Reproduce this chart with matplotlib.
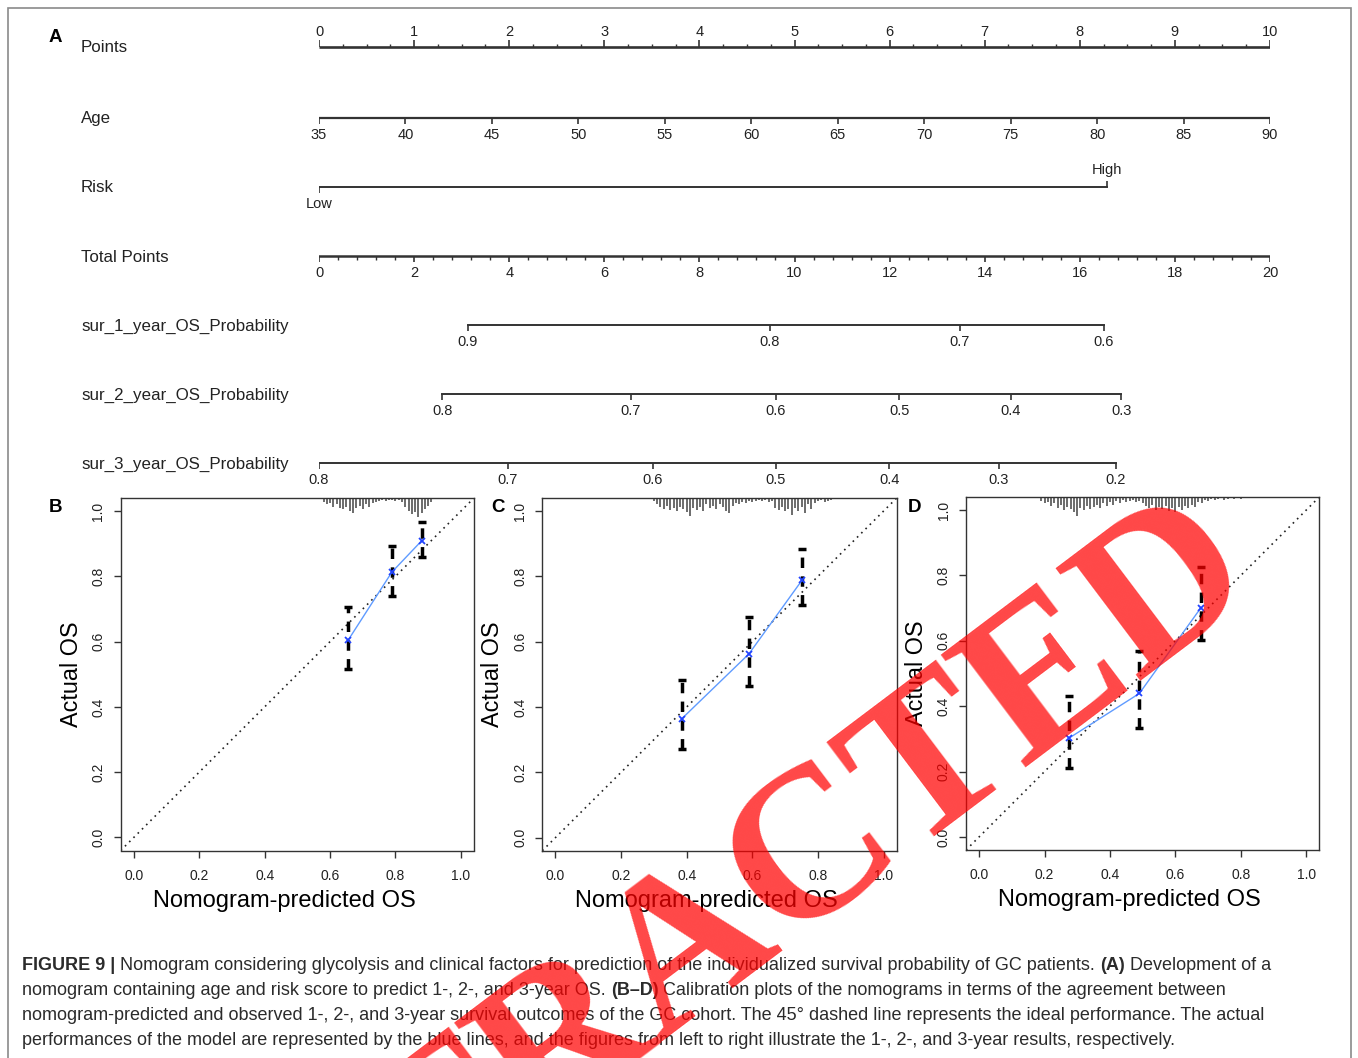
import matplotlib
matplotlib.use("Agg")
import matplotlib.pyplot as plt
import numpy as np
from matplotlib.patches import Rectangle

plt.rcParams['font.family'] = ['Liberation Sans', 'DejaVu Sans']

W, H = 1358, 1058
INK = "#333333"

# ---- nomogram (panel A) ----
points_ticks = [0, 1, 2, 3, 4, 5, 6, 7, 8, 9, 10]
age_ticks = [35, 40, 45, 50, 55, 60, 65, 70, 75, 80, 85, 90]
age_range = [35, 90]          # maps onto 0..10 points
risk_labels = ["Low", "High"]
risk_points = [0.0, 8.29]
total_ticks = [0, 2, 4, 6, 8, 10, 12, 14, 16, 18, 20]
sur1_labels = ["0.9", "0.8", "0.7", "0.6"]
sur1_total = [3.13, 9.48, 13.48, 16.51]
sur2_labels = ["0.8", "0.7", "0.6", "0.5", "0.4", "0.3"]
sur2_total = [2.59, 6.56, 9.61, 12.20, 14.55, 16.87]
sur3_labels = ["0.8", "0.7", "0.6", "0.5", "0.4", "0.3", "0.2"]
sur3_total = [0.0, 3.97, 7.02, 9.61, 11.99, 14.30, 16.76]
row_names = ["Points", "Age", "Risk", "Total Points", "sur_1_year_OS_Probability",
             "sur_2_year_OS_Probability", "sur_3_year_OS_Probability"]

# ---- calibration panels (B: 1 year, C: 2 year, D: 3 year) ----
B_pred = [0.655, 0.789, 0.880]
B_obs = [0.604, 0.813, 0.909]
B_lo = [0.517, 0.739, 0.858]
B_hi = [0.706, 0.892, 0.966]
C_pred = [0.385, 0.590, 0.752]
C_obs = [0.364, 0.563, 0.789]
C_lo = [0.272, 0.463, 0.713]
C_hi = [0.484, 0.677, 0.883]
D_pred = [0.276, 0.490, 0.678]
D_obs = [0.303, 0.439, 0.701]
D_lo = [0.210, 0.333, 0.601]
D_hi = [0.430, 0.568, 0.826]

# spike histograms of predicted risk along the top
B_rug_x = [0.58, 0.59, 0.60, 0.61, 0.62, 0.63, 0.64, 0.65, 0.66, 0.67, 0.68, 0.69,
           0.70, 0.71, 0.72, 0.73, 0.74, 0.75, 0.76, 0.77, 0.78, 0.79, 0.80, 0.81,
           0.82, 0.83, 0.84, 0.85, 0.86, 0.87, 0.88, 0.89, 0.90, 0.91]
B_rug_n = [4, 6, 5, 8, 6, 9, 10, 8, 12, 14, 9, 7, 10, 6, 8, 5, 4, 3, 2, 3, 2, 2,
           3, 2, 4, 8, 12, 15, 13, 18, 14, 10, 7, 4]
C_rug_x = [0.30, 0.31, 0.32, 0.33, 0.34, 0.35, 0.36, 0.37, 0.38, 0.39, 0.40, 0.41,
           0.42, 0.43, 0.44, 0.45, 0.46, 0.47, 0.48, 0.49, 0.50, 0.51, 0.52, 0.53,
           0.54, 0.55, 0.56, 0.57, 0.58, 0.59, 0.60, 0.61, 0.62, 0.63, 0.64, 0.65,
           0.66, 0.67, 0.68, 0.69, 0.70, 0.71, 0.72, 0.73, 0.74, 0.75, 0.76, 0.77,
           0.78, 0.79, 0.80, 0.81, 0.82, 0.83, 0.84]
C_rug_n = [3, 6, 8, 10, 7, 11, 9, 12, 8, 10, 13, 17, 9, 11, 8, 12, 6, 9, 7, 10,
           6, 8, 12, 14, 7, 5, 6, 4, 5, 3, 4, 3, 2, 3, 2, 4, 3, 9, 11, 8,
           12, 10, 16, 9, 12, 8, 14, 6, 10, 5, 3, 2, 4, 3, 2]
D_rug_x = [0.19, 0.20, 0.21, 0.22, 0.23, 0.24, 0.25, 0.26, 0.27, 0.28, 0.29, 0.30,
           0.31, 0.32, 0.33, 0.34, 0.35, 0.36, 0.37, 0.38, 0.39, 0.40, 0.41, 0.42,
           0.43, 0.44, 0.45, 0.46, 0.47, 0.48, 0.49, 0.50, 0.51, 0.52, 0.53, 0.54,
           0.55, 0.56, 0.57, 0.58, 0.59, 0.60, 0.61, 0.62, 0.63, 0.64, 0.65, 0.66,
           0.67, 0.68, 0.69, 0.70, 0.71, 0.72, 0.73, 0.74, 0.75, 0.76, 0.78, 0.80]
D_rug_n = [4, 6, 5, 8, 6, 10, 7, 12, 9, 11, 14, 18, 10, 12, 8, 11, 9, 7, 10, 6,
           8, 5, 7, 4, 6, 3, 5, 4, 3, 5, 4, 6, 8, 10, 7, 12, 9, 11, 8, 13,
           10, 14, 9, 12, 8, 10, 7, 9, 5, 6, 3, 4, 2, 3, 2, 1, 3, 2, 2, 2]

caption = [
    [("FIGURE 9 |", True),
     ("Nomogram considering glycolysis and clinical factors for prediction of the "
      "individualized survival probability of GC patients.", False),
     ("(A)", True), ("Development of a", False)],
    [("nomogram containing age and risk score to predict 1-, 2-, and 3-year OS.", False),
     ("(B\u2013D)", True),
     ("Calibration plots of the nomograms in terms of the agreement between", False)],
    [("nomogram-predicted and observed 1-, 2-, and 3-year survival outcomes of the GC "
      "cohort. The 45\u00b0 dashed line represents the ideal performance. The actual", False)],
    [("performances of the model are represented by the blue lines, and the figures "
      "from left to right illustrate the 1-, 2-, and 3-year results, respectively.", False)],
]

fig = plt.figure(figsize=(W / 100, H / 100), dpi=100)

# outer frame
fig.patches.append(Rectangle((8 / W, -0.02), (1351 - 8) / W, 1 - 8 / H + 0.02,
                             transform=fig.transFigure, fill=False,
                             edgecolor="#8a8a8a", lw=1.2))

# ---------------- nomogram ----------------
ax = fig.add_axes([319 / W, 1 - 490 / H, 951 / W, 490 / H])
ax.set_xlim(0, 10)
ax.set_ylim(490, 0)
ax.axis("off")
rows = [47, 118, 187, 256, 325, 394, 463]
lab_x = (81 - 319) / 95.1
tk = dict(fontsize=10.5, color="#222222", ha="center", va="center")
for name, y in zip(row_names, rows):
    ax.text(lab_x, y + 1, name, fontsize=12.2, color="#222222", ha="left", va="center")

# Points
y = rows[0]
ax.plot([0, 10], [y, y], color=INK, lw=1.9, solid_capstyle="butt")
ax.vlines(points_ticks, y - 7, y, color=INK, lw=1.2)
minor = [p + q for p in points_ticks[:-1] for q in (0.25, 0.5, 0.75)]
ax.vlines(minor, y - 3.5, y, color=INK, lw=1.0)
for p in points_ticks:
    ax.text(p, y - 15, str(p), **tk)

# Age
y = rows[1]
age_x = np.interp(age_ticks, age_range, [0, 10])
ax.plot([0, 10], [y, y], color=INK, lw=1.6)
ax.vlines(age_x, y, y + 6, color=INK, lw=1.2)
for a, x in zip(age_ticks, age_x):
    ax.text(x, y + 17, str(a), **tk)

# Risk
y = rows[2]
ax.plot(risk_points, [y, y], color=INK, lw=1.4)
ax.vlines(risk_points[0], y, y + 6, color=INK, lw=1.2)
ax.vlines(risk_points[1], y - 6, y, color=INK, lw=1.2)
ax.text(risk_points[0], y + 17, risk_labels[0], **tk)
ax.text(risk_points[1], y - 17, risk_labels[1], **tk)

# Total points (0..20 spans the same width as 0..10 points)
y = rows[3]
tot_x = np.interp(total_ticks, [0, 20], [0, 10])
ax.plot([0, 10], [y, y], color=INK, lw=1.8)
ax.vlines(tot_x, y, y + 6, color=INK, lw=1.2)
tminor = [t + q for t in total_ticks[:-1] for q in (0.4, 0.8, 1.2, 1.6)]
ax.vlines(np.interp(tminor, [0, 20], [0, 10]), y, y + 3.5, color=INK, lw=1.0)
for t, x in zip(total_ticks, tot_x):
    ax.text(x, y + 17, str(t), **tk)

# survival probability scales
for y, labs, tot in zip(rows[4:], [sur1_labels, sur2_labels, sur3_labels],
                        [sur1_total, sur2_total, sur3_total]):
    xs = np.interp(tot, [0, 20], [0, 10])
    ax.plot([xs[0], xs[-1]], [y, y], color=INK, lw=1.4)
    ax.vlines(xs, y, y + 6, color=INK, lw=1.2)
    for l, x in zip(labs, xs):
        ax.text(x, y + 17, l, **tk)

fig.text(55 / W, 1 - 37 / H, "A", fontsize=13.5, fontweight="bold", ha="center", va="center")

# ---------------- calibration plots ----------------
panels = [
    ("B", [120.7, 474.0, 498.0, 850.5], B_pred, B_obs, B_lo, B_hi, B_rug_x, B_rug_n, 55),
    ("C", [542.3, 896.7, 498.0, 850.7], C_pred, C_obs, C_lo, C_hi, C_rug_x, C_rug_n, 498),
    ("D", [966.0, 1319.3, 497.0, 850.0], D_pred, D_obs, D_lo, D_hi, D_rug_x, D_rug_n, 914),
]
ticks = [0.0, 0.2, 0.4, 0.6, 0.8, 1.0]
for letter, (l, r, t, b), pred, obs, lo, hi, rx, rn, lx in panels:
    a = fig.add_axes([l / W, 1 - b / H, (r - l) / W, (b - t) / H])
    a.set_xlim(-0.04, 1.04)
    a.set_ylim(-0.04, 1.04)
    for s in a.spines.values():
        s.set_color(INK)
        s.set_linewidth(1.0)
    a.set_xticks(ticks)
    a.set_yticks(ticks)
    a.set_xticklabels(["%.1f" % v for v in ticks])
    a.set_yticklabels(["%.1f" % v for v in ticks], rotation=90, va="center")
    a.tick_params(direction="out", length=5, width=1, color=INK, labelsize=10,
                  labelcolor="#222222")
    a.tick_params(axis="x", pad=8)
    a.tick_params(axis="y", pad=6)
    a.axline((0, 0), (1, 1), color="#222222", lw=1.2, ls=(0, (1, 2.6)))
    # spike histogram hanging from the top
    a.vlines(rx, 1.04 - np.array(rn) * 0.0033, 1.04, color="#444444", lw=1.1)
    eb = a.errorbar(pred, obs, yerr=[np.subtract(obs, lo), np.subtract(hi, obs)],
                    fmt="none", ecolor="black", elinewidth=2.5, capsize=3, capthick=2.5)
    eb[2][0].set_linestyle((0, (3, 2.4)))
    a.plot(pred, obs, color="#5f9bff", lw=1.0)
    a.plot(pred, obs, ls="none", marker="x", ms=5, mew=1.3, color="#2244ff")
    a.set_xlabel("Nomogram-predicted OS", fontsize=17, va="center")
    a.xaxis.set_label_coords(0.463, -0.143)
    a.set_ylabel("Actual OS", fontsize=16.8, va="center")
    a.yaxis.set_label_coords(-0.14, 0.5)
    fig.text(lx / W, 1 - 508 / H, letter, fontsize=13.5, fontweight="bold",
             ha="center", va="center")

# ---------------- caption ----------------
fig.canvas.draw()
rend = fig.canvas.get_renderer()


def width(s, bold, size):
    t = fig.text(0, 0, s, fontsize=size, fontweight="bold" if bold else "normal")
    w = t.get_window_extent(renderer=rend).width
    t.remove()
    return w


CAP = 13.0
space = width("a a", False, CAP) - width("aa", False, CAP)
for i, parts in enumerate(caption):
    x = 22
    yb = 970 + 25 * i
    for s, bold in parts:
        t = fig.text(x / W, 1 - yb / H, s, fontsize=CAP, color="#2b2b2b",
                     fontweight="bold" if bold else "normal", ha="left", va="baseline")
        x += t.get_window_extent(renderer=rend).width + space

# retraction stamp across the figure
fig.text(182 / W, 1 - 1400 / H, "RETRACTED", fontfamily="Liberation Serif",
         fontweight="bold", fontsize=155, color="red", alpha=0.72, rotation=37,
         rotation_mode="anchor", ha="left", va="baseline", zorder=100)

fig.savefig("out.png", dpi=100)
